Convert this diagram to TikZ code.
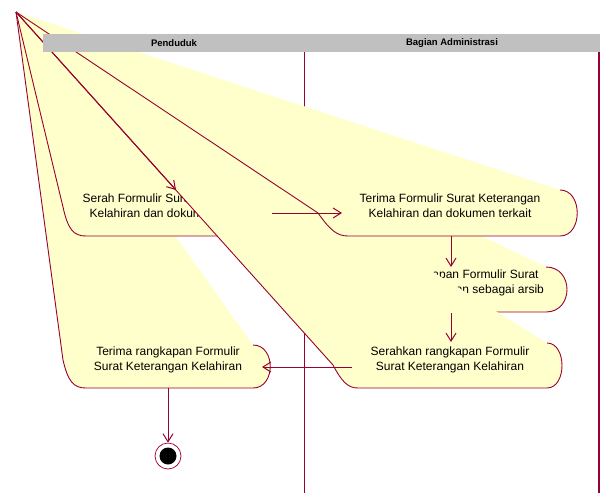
\documentclass[tikz,border=0pt]{standalone}
\usepackage{fontspec}
\setmainfont{Liberation Sans}
\usetikzlibrary{arrows.meta}

\definecolor{roseline}{HTML}{990033}
\definecolor{actyellow}{HTML}{FFFFCC}
\definecolor{lanegrey}{HTML}{C0C0C0}

\begin{document}
\begin{tikzpicture}[x=1pt, y=-1pt,
    actline/.style={draw=roseline, line width=0.9pt},
    actfill/.style={fill=actyellow},
    acttext/.style={align=center, inner sep=0pt, font=\fontsize{12}{15}\selectfont},
    lanehead/.style={font=\fontsize{9.5}{11}\selectfont\bfseries}
]
\useasboundingbox (0,0) rectangle (600,493);

% swimlanes
\draw[roseline, line width=1.2pt] (304.5,52) -- (304.5,493);
\draw[roseline, line width=1.2pt] (599,52) -- (599,493);

\coordinate (awal) at (16,12);

% Terima rangkapan (Penduduk)
\fill[actfill] (awal) -- (63,360) .. controls (68,382) and (74,388) .. (86,388) -- (253,388) .. controls (276,388) and (276,345) .. (253,345) -- cycle;
\draw[actline] (awal) -- (63,360) .. controls (68,382) and (74,388) .. (86,388) -- (253,388) .. controls (276,388) and (276,345) .. (253,345);
\node[acttext] (terimaRk) at (168,359.5) {Terima rangkapan Formulir\\Surat Keterangan Kelahiran};

% Serah Formulir (Penduduk)
\fill[actfill] (awal) -- (63,207) .. controls (68,230) and (74,236) .. (86,236) -- (253,236) .. controls (276,236) and (276,190) .. (253,190) -- cycle;
\draw[actline] (awal) -- (63,207) .. controls (68,230) and (74,236) .. (86,236) -- (253,236) .. controls (276,236) and (276,190) .. (253,190);
\node[acttext] (serah) at (171,206) {Serah Formulir Surat Keterangan\\Kelahiran dan dokumen terkait};

% Simpan arsip (Bagian Administrasi)
\fill[actfill] (awal) -- (330,290) .. controls (338,306) and (342,312) .. (352,312) -- (546,312) .. controls (574,312) and (574,267) .. (546,267) -- cycle;
\draw[actline] (awal) -- (330,290) .. controls (338,306) and (342,312) .. (352,312) -- (546,312) .. controls (574,312) and (574,267) .. (546,267);
\node[acttext] (simpan) at (448.5,282.5) {Simpan rangkapan Formulir Surat\\Keterangan Kelahiran sebagai arsib};

% Serahkan rangkapan (Bagian Administrasi)
\fill[actfill] (awal) -- (333,365) .. controls (342,382) and (348,388) .. (358,388) -- (547,388) .. controls (567,388) and (567,343) .. (547,343) -- cycle;
\draw[actline] (awal) -- (333,365) .. controls (342,382) and (348,388) .. (358,388) -- (547,388) .. controls (567,388) and (567,343) .. (547,343);
\node[acttext] (serahkan) at (450,359.5) {Serahkan rangkapan Formulir\\Surat Keterangan Kelahiran};

% Terima Formulir (Bagian Administrasi)
\fill[actfill] (awal) -- (318,213) .. controls (330,230) and (337,236) .. (348,236) -- (560,236) .. controls (583,236) and (583,190) .. (560,190) -- cycle;
\draw[actline] (awal) -- (318,213) .. controls (330,230) and (337,236) .. (348,236) -- (560,236) .. controls (583,236) and (583,190) .. (560,190);
\node[acttext] (terima) at (450,206) {Terima Formulir Surat Keterangan\\Kelahiran dan dokumen terkait};

% final state
\node[circle, draw=roseline, line width=0.7pt, minimum size=26pt, inner sep=0pt] (akhir) at (168,456) {};
\fill (akhir.center) circle (8.5);

\coordinate (serahT) at (176,190);
\coordinate (serahR) at (272,213);
\coordinate (terimaL) at (342,213);
\coordinate (terimaB) at (451,236);
\coordinate (simpanT) at (451,267);
\coordinate (simpanB) at (451,313);
\coordinate (serahkanT) at (451,342);
\coordinate (serahkanL) at (352,367);
\coordinate (terimaRkR) at (262,367);
\coordinate (terimaRkB) at (168,388);

\begin{scope}[-{Straight Barb[length=8pt,width=10pt]}, roseline, line width=1pt]
    \draw (awal) -- (serahT);
    \draw (serahR) -- (terimaL);
    \draw (terimaB) -- (simpanT);
    \draw (simpanB) -- (serahkanT);
    \draw (serahkanL) -- (terimaRkR);
    \draw (terimaRkB) -- (akhir);
\end{scope}

% lane headers
\fill[lanegrey] (43,34) rectangle (600,52);
\node[lanehead] (penduduk) at (174,43) {Penduduk};
\node[lanehead] (bagian) at (452,43) {Bagian Administrasi};

\end{tikzpicture}
\end{document}
